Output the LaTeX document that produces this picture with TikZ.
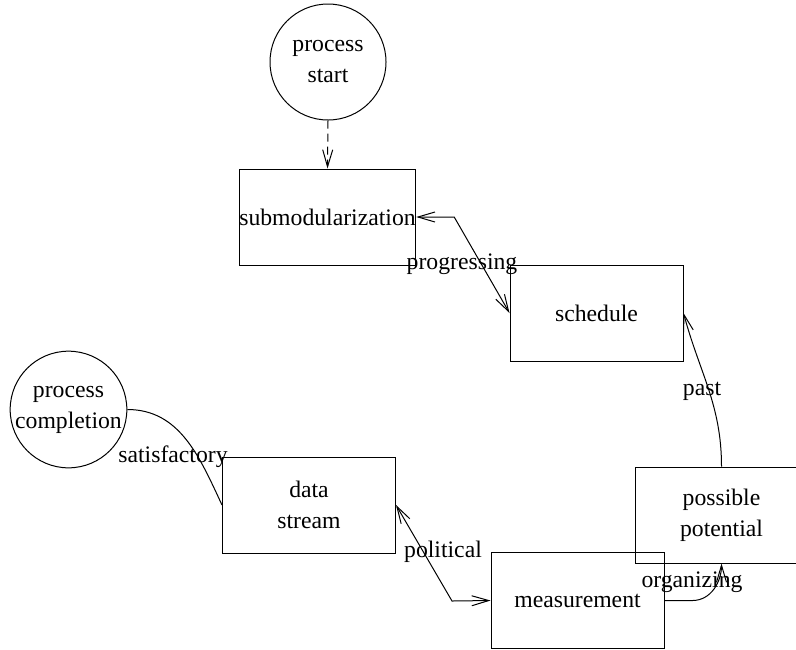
\documentclass[tikz,border=0pt]{standalone}
\usepackage{fontspec}
\setmainfont{Liberation Serif}
\newfontfamily\tnrfont{Liberation Serif}
\usetikzlibrary{arrows.meta}
\begin{document}
\begin{tikzpicture}[x=0.5pt,y=-0.5pt,line width=0.5pt,
  every node/.style={font=\tnrfont\fontsize{11.85}{15.5}\selectfont},
  box/.style={draw, rectangle, minimum width=86.5pt, minimum height=48pt, inner sep=0pt, align=center},
  term/.style={draw, circle, minimum size=58pt, inner sep=0pt, align=center},
  lbl/.style={inner sep=0pt, anchor=base},
  barb/.tip={Straight Barb[length=8.5pt,width=5pt]}]
\useasboundingbox (0,0) rectangle (796,649);
\clip (0,0) rectangle (796,649);
% nodes
\node[term] (start) at (328,62) {process\\start};
\node[box] (submod) at (327.5,217) {submodularization};
\node[box] (schedule) at (596.5,313) {schedule};
\node[term, minimum size=57.5pt] (completion) at (68.5,409.5) {process\\completion};
\node[box] (datastream) at (309,505) {data\\stream};
\node[box] (measurement) at (577.5,600.5) {measurement};
\node[box] (possible) at (721.5,515) {possible\\potential};
% connectors
\draw[-barb, dash pattern=on 4pt off 2.5pt] (start.south) -- (submod.north);
\draw[barb-barb] (submod.east) -- ++(38,0) -- (schedule.west);
\draw (completion.east) to[out=0,in=115] (datastream.west);
\draw[barb-barb] (datastream.east) -- (452,601) -- (measurement.west);
\draw[-barb] (measurement.east) -- ++(28,0) to[out=0,in=-90] (possible.south);
\draw[-barb] (possible.north) to[out=90,in=-75] (schedule.east);
% labels
\node[lbl] (lprog) at (462,269) {progressing};
\node[lbl] (lsat) at (173,462) {satisfactory};
\node[lbl] (lpol) at (443,557) {political};
\node[lbl] (lorg) at (692,587) {organizing};
\node[lbl] (lpast) at (702,395) {past};
\end{tikzpicture}
\end{document}
